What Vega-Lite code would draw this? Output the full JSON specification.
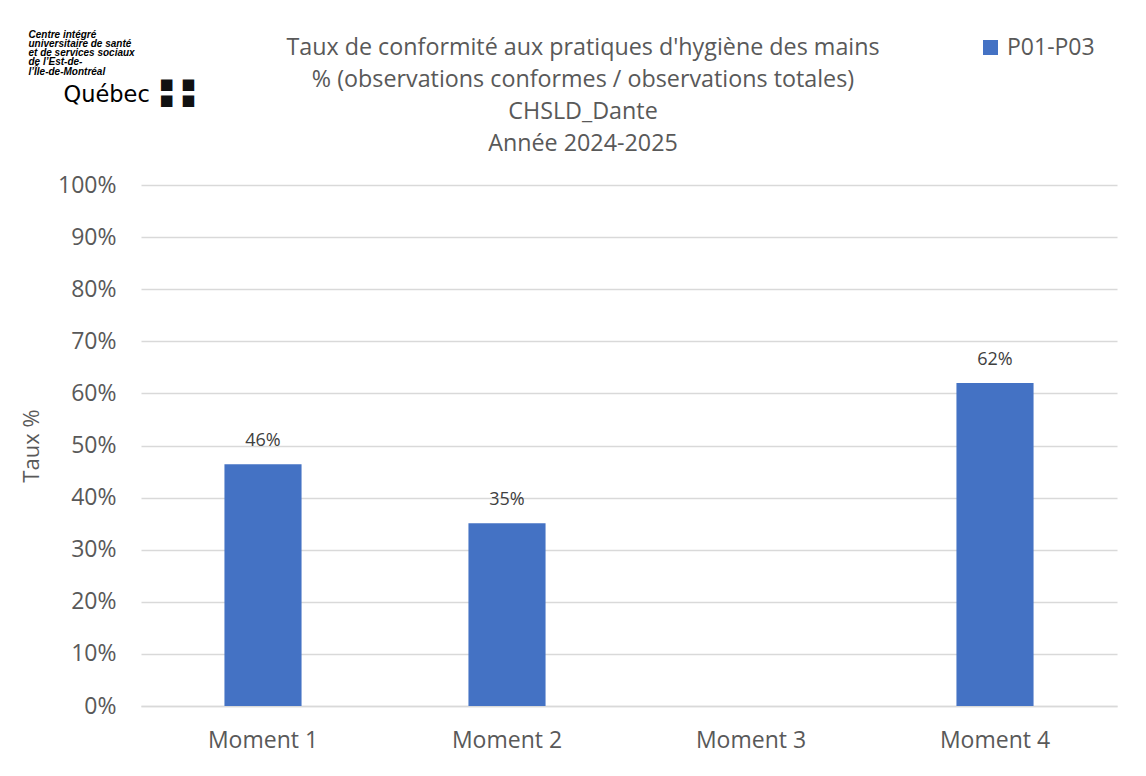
{
  "$schema": "https://vega.github.io/schema/vega-lite/v6.json",
  "width": 976,
  "height": 521,
  "autosize": {"type": "none"},
  "padding": {"left": 141, "top": 185, "right": 29, "bottom": 70},
  "background": "white",
  "title": {
    "text": ["Taux de conformité aux pratiques d'hygiène des mains", "% (observations conformes / observations totales)", "CHSLD_Dante", "Année 2024-2025"],
    "fontSize": 23.3,
    "font": "Open Sans",
    "fontWeight": "normal",
    "color": "#595959",
    "lineHeight": 32,
    "frame": "group",
    "dx": -46,
    "dy": 127,
    "offset": 0,
    "anchor": "middle"
  },
  "data": {
    "values": [
      {"moment": "Moment 1", "taux": 0.464, "serie": "P01-P03"},
      {"moment": "Moment 2", "taux": 0.351, "serie": "P01-P03"},
      {"moment": "Moment 3", "taux": null, "serie": "P01-P03"},
      {"moment": "Moment 4", "taux": 0.62, "serie": "P01-P03"}
    ]
  },
  "layer": [
    {
      "mark": {"type": "bar"},
      "encoding": {
        "x": {
          "field": "moment", "type": "nominal", "sort": null,
          "scale": {"domain": ["Moment 1", "Moment 2", "Moment 3", "Moment 4"], "paddingInner": 0.684, "paddingOuter": 0.342},
          "axis": {"labelAngle": 0, "labelFontSize": 23, "labelColor": "#595959", "labelPadding": 23, "ticks": false, "domainColor": "#D9D9D9", "domainWidth": 1.5, "grid": false,
            "title": ["■\u2002■", "■\u2002■"], "titleX": 18, "titleY": -618, "titleAlign": "left", "titleBaseline": "alphabetic", "titleAngle": 0,
            "titleFont": "DejaVu Sans", "titleFontSize": 15, "titleLineHeight": 16, "titleColor": "#111111", "titleFontWeight": "normal"}
        },
        "y": {
          "field": "taux", "type": "quantitative",
          "scale": {"domain": [0, 1]},
          "axis": {"format": ".0%", "values": [0, 0.1, 0.2, 0.3, 0.4, 0.5, 0.6, 0.7, 0.8, 0.9, 1], "labelFontSize": 23, "labelColor": "#595959", "labelPadding": 25, "ticks": false, "domain": false, "gridColor": "#D9D9D9", "gridWidth": 1.5, "title": "Taux %", "titleFontSize": 22, "titleColor": "#595959", "titleFontWeight": "normal", "titlePadding": 14}
        },
        "color": {
          "field": "serie", "type": "nominal",
          "scale": {"range": ["#4472C4"]},
          "legend": {"orient": "none", "legendX": 838, "legendY": -149, "title": null, "labelFontSize": 23, "labelColor": "#595959", "symbolType": "square", "symbolSize": 225, "symbolStrokeWidth": 0, "symbolOpacity": 1, "labelOffset": 5}
        }
      }
    },
    {
      "mark": {"type": "text", "dy": -14, "fontSize": 18, "color": "#404040", "baseline": "bottom"},
      "encoding": {
        "x": {
          "field": "moment", "type": "nominal", "sort": null,
          "axis": {"orient": "top", "labels": false, "ticks": false, "domain": false, "grid": false,
            "title": ["Centre intégré", "universitaire de santé", "et de services sociaux", "de l’Est-de-", "l’Île-de-Montréal"],
            "titleX": -113, "titleY": -156, "titleAlign": "left", "titleBaseline": "top", "titleAngle": 0,
            "titleFontSize": 10, "titleFont": "Liberation Sans", "titleFontStyle": "italic", "titleFontWeight": "bold", "titleColor": "#000000", "titleLineHeight": 9.3}
        },
        "y": {
          "field": "taux", "type": "quantitative",
          "axis": {"orient": "right", "labels": false, "ticks": false, "domain": false, "grid": false,
            "title": "Québec", "titleAngle": 0, "titleX": -1054, "titleY": -84, "titleAlign": "left", "titleBaseline": "alphabetic",
            "titleFontSize": 22.5, "titleFont": "DejaVu Sans", "titleFontWeight": "normal", "titleColor": "#000000"}
        },
        "text": {"field": "taux", "type": "quantitative", "format": ".0%"}
      }
    }
  ],
  "resolve": {"axis": {"x": "independent", "y": "independent"}},
  "config": {"view": {"stroke": null}, "font": "Open Sans"}
}
